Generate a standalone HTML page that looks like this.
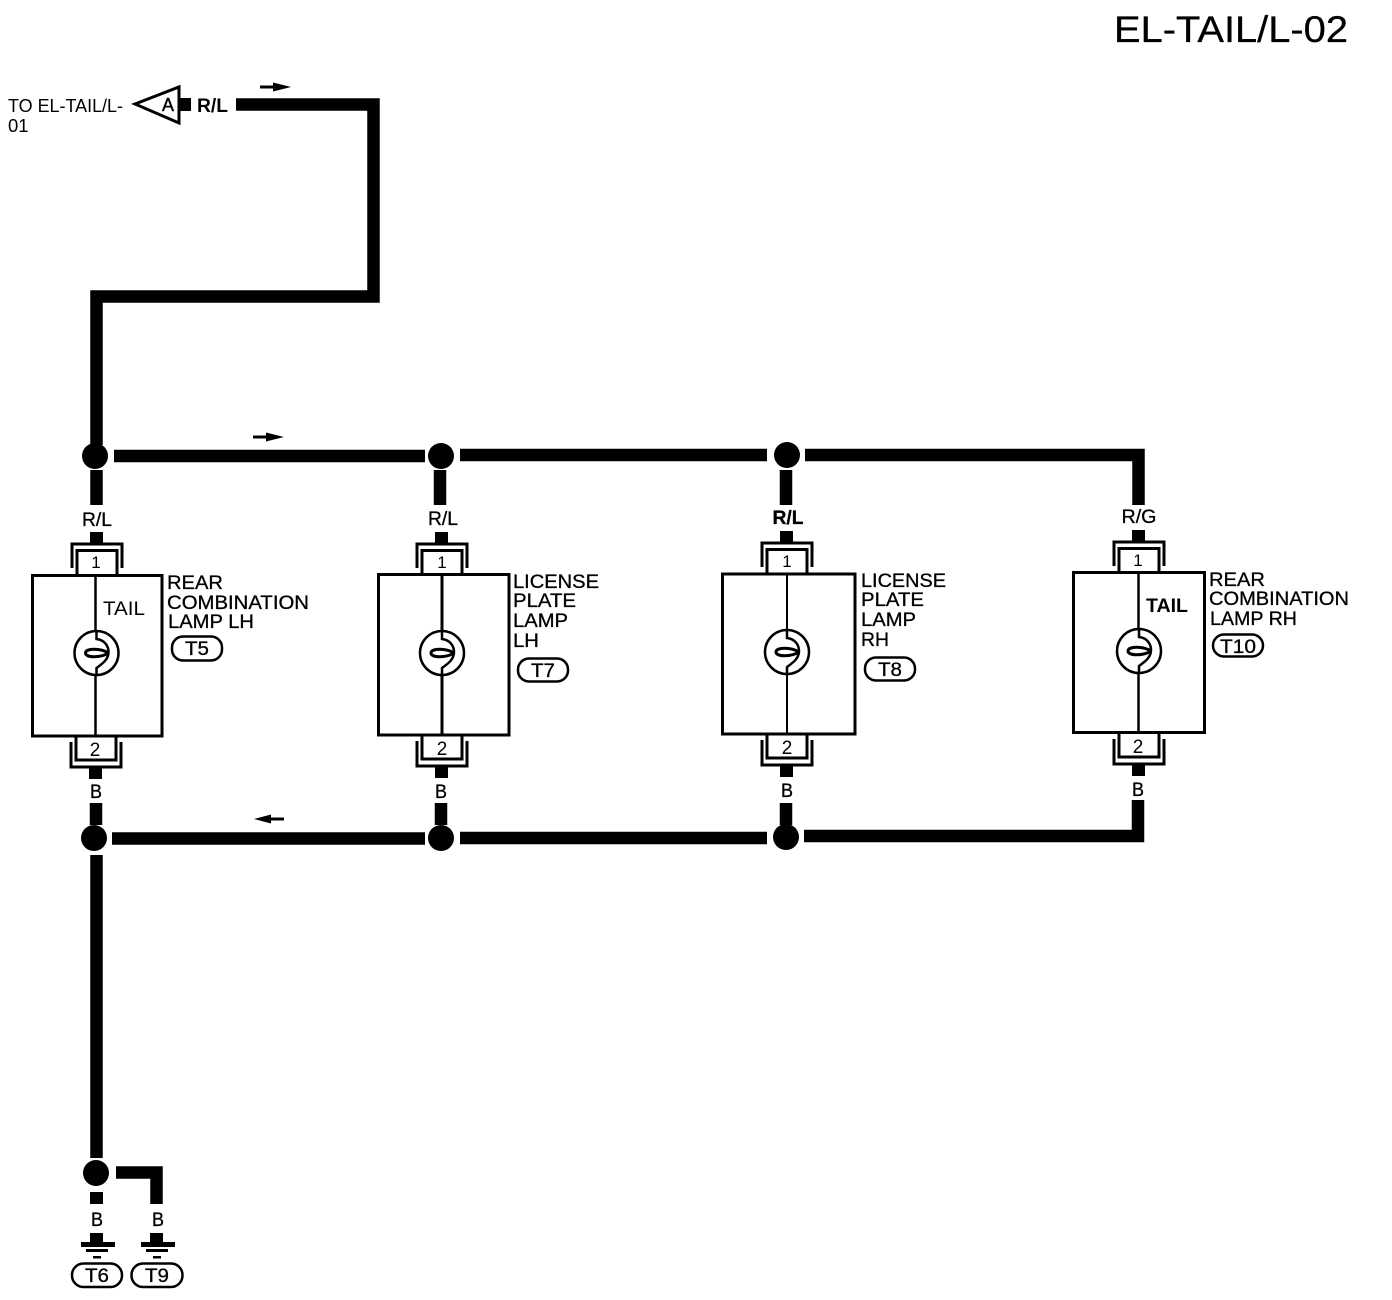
<!DOCTYPE html>
<html><head><meta charset="utf-8"><style>
html,body{margin:0;padding:0;background:#fff;width:1392px;height:1300px;overflow:hidden}
svg{display:block}
text{font-family:"Liberation Sans",sans-serif;fill:#000}
.w{fill:none;stroke:#000;stroke-width:12.5;stroke-linejoin:miter}
.l{font-size:19.500px;stroke:#000;stroke-width:.3px}
.c{font-size:19px;text-anchor:middle;stroke:#000;stroke-width:.3px}
</style></head><body>
<svg width="1392" height="1300" viewBox="0 0 1392 1300" xmlns="http://www.w3.org/2000/svg">
<defs>
<g id="conn" fill="none" stroke="#000">
<path d="M-19 31V6.500H21V31" stroke-width="3"/>
<path d="M-24 24V0H26V24" stroke-width="3"/>
<rect x="-6" y="-12" width="13" height="12" fill="#000" stroke="none"/>
</g>
<g id="connb" fill="none" stroke="#000">
<path d="M-19 -1V22H21V-1" stroke-width="3"/>
<path d="M-24 4V29H26V4" stroke-width="3"/>
<rect x="-6" y="29" width="13" height="12" fill="#000" stroke="none"/>
</g>
<g id="bulb" fill="#fff" stroke="#000" stroke-width="2.500">
<circle cx="0" cy="0" r="22"/>
<path d="M0 -22V-14C9 -13 12 -6 12 -1C12 6 7 10 0 15V22" fill="none"/>
<path d="M12 0C4 -5 -11 -5 -11 0C-11 5 4 5 12 0" fill="none" stroke-width="3"/>
</g>
<g id="arrow"><path d="M0 -1.500H13V-4.500L31 0L13 4.500V1.500H0Z" fill="#000"/></g>
<g id="arrowl"><path d="M30 -1.500H17V-4.500L0 0L17 4.500V1.500H30Z" fill="#000"/></g>
<g id="gnd" fill="#000">
<rect x="-7" y="0" width="13" height="10"/>
<rect x="-16" y="9" width="34" height="5"/>
<rect x="-11" y="16" width="22" height="3"/>
<rect x="-4" y="23" width="8" height="2.500"/>
</g>
</defs>

<text x="1114" y="42" font-size="37" stroke="#000" stroke-width=".3" textLength="234" lengthAdjust="spacingAndGlyphs">EL-TAIL/L-02</text>

<text x="8" y="112" font-size="18.500" textLength="115" lengthAdjust="spacingAndGlyphs">TO EL-TAIL/L-</text>
<text x="8" y="132" font-size="18.500">01</text>
<path d="M135 104L179 87V123Z" fill="#fff" stroke="#000" stroke-width="3"/>
<text x="168" y="111" font-size="18" text-anchor="middle" stroke="#000" stroke-width=".4">A</text>
<rect x="180" y="98" width="11" height="13"/>
<text x="197" y="112" font-size="19" font-weight="bold" textLength="31" lengthAdjust="spacingAndGlyphs">R/L</text>
<use href="#arrow" x="260" y="87"/>
<path class="w" d="M236 104.500H373.500V296.500H96.500V445"/>

<circle cx="95" cy="456" r="13"/>
<use href="#arrow" x="253" y="437"/>
<path class="w" d="M114 456H425"/>
<circle cx="441" cy="456" r="13"/>
<path class="w" d="M460 455H767"/>
<circle cx="787" cy="455" r="13"/>
<path class="w" d="M805 455H1138.500V505"/>
<path class="w" d="M96.500 470V505M440 470V505M786 470V505"/>

<text class="c" x="97" y="526" textLength="30" lengthAdjust="spacingAndGlyphs">R/L</text>
<text class="c" x="443" y="525" textLength="30" lengthAdjust="spacingAndGlyphs">R/L</text>
<text class="c" x="788" y="524" font-weight="bold" textLength="31" lengthAdjust="spacingAndGlyphs">R/L</text>
<text class="c" x="1139" y="523" textLength="35" lengthAdjust="spacingAndGlyphs">R/G</text>

<!-- Lamp 1 -->
<use href="#conn" x="96" y="544"/>
<rect x="32.500" y="575.500" width="129.500" height="160.500" fill="#fff" stroke="#000" stroke-width="3"/>
<path d="M95.500 576V736" stroke="#000" stroke-width="2.500"/>
<use href="#bulb" x="96.500" y="653"/>
<text x="96" y="568" font-size="17" text-anchor="middle">1</text>
<use href="#connb" x="95" y="738"/>
<text x="95" y="756" font-size="19" text-anchor="middle">2</text>
<text x="103" y="615" font-size="19.500" textLength="42" lengthAdjust="spacingAndGlyphs">TAIL</text>
<text class="l" x="167" y="589" textLength="56" lengthAdjust="spacingAndGlyphs">REAR</text>
<text class="l" x="167" y="609" textLength="142" lengthAdjust="spacingAndGlyphs">COMBINATION</text>
<text class="l" x="168" y="628" textLength="86" lengthAdjust="spacingAndGlyphs">LAMP LH</text>
<rect x="172" y="636.500" width="50" height="24" rx="11" fill="#fff" stroke="#000" stroke-width="2.500"/>
<text class="c" x="197" y="655" textLength="24" lengthAdjust="spacingAndGlyphs">T5</text>

<!-- Lamp 2 -->
<use href="#conn" x="441" y="544"/>
<rect x="378.500" y="574.500" width="130.500" height="160.500" fill="#fff" stroke="#000" stroke-width="3"/>
<path d="M442 575V735" stroke="#000" stroke-width="3"/>
<use href="#bulb" x="442" y="653"/>
<text x="442" y="568" font-size="17" text-anchor="middle">1</text>
<use href="#connb" x="441" y="737"/>
<text x="442" y="755" font-size="19" text-anchor="middle">2</text>
<text class="l" x="513" y="588" textLength="86" lengthAdjust="spacingAndGlyphs">LICENSE</text>
<text class="l" x="513" y="607" textLength="63" lengthAdjust="spacingAndGlyphs">PLATE</text>
<text class="l" x="513" y="627" textLength="55" lengthAdjust="spacingAndGlyphs">LAMP</text>
<text class="l" x="513" y="647" textLength="26" lengthAdjust="spacingAndGlyphs">LH</text>
<rect x="518" y="658.500" width="50" height="23" rx="11" fill="#fff" stroke="#000" stroke-width="2.500"/>
<text class="c" x="543" y="677" textLength="24" lengthAdjust="spacingAndGlyphs">T7</text>

<!-- Lamp 3 -->
<use href="#conn" x="786" y="543"/>
<rect x="722.500" y="574" width="132.500" height="160" fill="#fff" stroke="#000" stroke-width="3"/>
<path d="M787 574V734" stroke="#000" stroke-width="2"/>
<use href="#bulb" x="787" y="652"/>
<text x="787" y="567" font-size="17" text-anchor="middle">1</text>
<use href="#connb" x="786" y="736"/>
<text x="787" y="754" font-size="19" text-anchor="middle">2</text>
<text class="l" x="861" y="587" textLength="85" lengthAdjust="spacingAndGlyphs">LICENSE</text>
<text class="l" x="861" y="606" textLength="63" lengthAdjust="spacingAndGlyphs">PLATE</text>
<text class="l" x="861" y="626" textLength="55" lengthAdjust="spacingAndGlyphs">LAMP</text>
<text class="l" x="861" y="646" textLength="28" lengthAdjust="spacingAndGlyphs">RH</text>
<rect x="865" y="657.500" width="50" height="23" rx="11" fill="#fff" stroke="#000" stroke-width="2.500"/>
<text class="c" x="890" y="676" textLength="24" lengthAdjust="spacingAndGlyphs">T8</text>

<!-- Lamp 4 -->
<use href="#conn" x="1138" y="542"/>
<rect x="1073.500" y="572.500" width="131" height="160" fill="#fff" stroke="#000" stroke-width="3"/>
<path d="M1138.500 573V733" stroke="#000" stroke-width="2.500"/>
<use href="#bulb" x="1139" y="651"/>
<text x="1138" y="566" font-size="17" text-anchor="middle">1</text>
<use href="#connb" x="1138" y="735"/>
<text x="1138" y="753" font-size="19" text-anchor="middle">2</text>
<text x="1146" y="612" font-size="19.500" font-weight="bold" textLength="42" lengthAdjust="spacingAndGlyphs">TAIL</text>
<text class="l" x="1209" y="586" textLength="56" lengthAdjust="spacingAndGlyphs">REAR</text>
<text class="l" x="1209" y="605" textLength="140" lengthAdjust="spacingAndGlyphs">COMBINATION</text>
<text class="l" x="1210" y="625" textLength="87" lengthAdjust="spacingAndGlyphs">LAMP RH</text>
<rect x="1213" y="634.500" width="50" height="22" rx="11" fill="#fff" stroke="#000" stroke-width="2.500"/>
<text class="c" x="1238" y="653" textLength="36" lengthAdjust="spacingAndGlyphs">T10</text>

<!-- Bottom bus -->
<text class="c" x="96" y="798" textLength="12" lengthAdjust="spacingAndGlyphs">B</text>
<text class="c" x="441" y="798" textLength="12" lengthAdjust="spacingAndGlyphs">B</text>
<text class="c" x="787" y="797" textLength="12" lengthAdjust="spacingAndGlyphs">B</text>
<text class="c" x="1138" y="796" textLength="12" lengthAdjust="spacingAndGlyphs">B</text>
<path class="w" d="M96 803V825M441 803V825M786 803V825"/>
<circle cx="94" cy="838" r="13"/>
<use href="#arrowl" x="254" y="819"/>
<path class="w" d="M112 838.500H425"/>
<circle cx="441" cy="838" r="13"/>
<path class="w" d="M460 838H767"/>
<circle cx="786" cy="837" r="13"/>
<path class="w" d="M804 836H1138V800"/>
<path class="w" d="M96.500 855V1158"/>
<circle cx="96" cy="1173" r="13"/>
<path class="w" d="M116 1172.500H156.500V1204"/>
<rect x="90" y="1192" width="13" height="12"/>
<text class="c" x="97" y="1226" textLength="12" lengthAdjust="spacingAndGlyphs">B</text>
<text class="c" x="158" y="1226" textLength="12" lengthAdjust="spacingAndGlyphs">B</text>
<use href="#gnd" x="97" y="1233"/>
<use href="#gnd" x="157" y="1233"/>
<rect x="72" y="1263.500" width="50" height="23.500" rx="11.500" fill="#fff" stroke="#000" stroke-width="2.500"/>
<text class="c" x="97" y="1282" textLength="24" lengthAdjust="spacingAndGlyphs">T6</text>
<rect x="131.500" y="1263.500" width="51" height="23.500" rx="11.500" fill="#fff" stroke="#000" stroke-width="2.500"/>
<text class="c" x="157" y="1282" textLength="24" lengthAdjust="spacingAndGlyphs">T9</text>
</svg>
</body></html>
